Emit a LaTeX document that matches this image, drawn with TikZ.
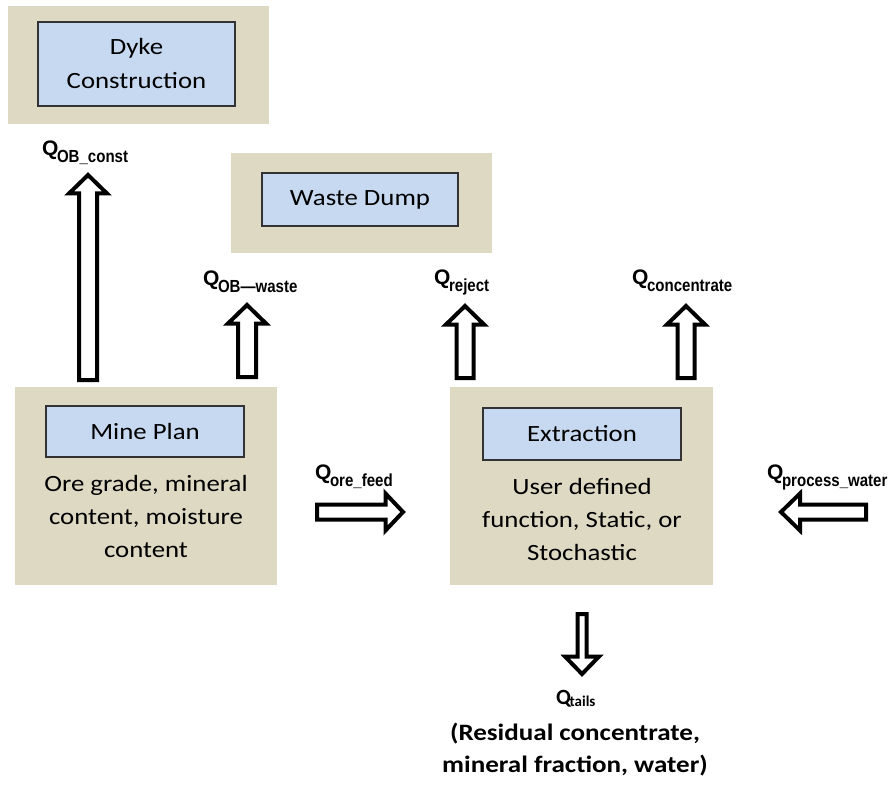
\documentclass[tikz,border=0pt]{standalone}
\usepackage{fontspec}
\setmainfont{Carlito}
\newfontfamily\boxfont[FakeStretch=1.15]{Carlito}
\newfontfamily\qfont{Liberation Sans}
\usetikzlibrary{calc}

\definecolor{panelfill}{RGB}{221,217,195}
\definecolor{titlefill}{RGB}{198,217,241}

% flow quantity label: Q with a lowered subscript
\newcommand\qflow[1]{{\qfont\bfseries\fontsize{21}{21}\selectfont Q}\kern-1.5pt\raisebox{-7pt}{\scalebox{0.86}[1]{\qfont\bfseries\fontsize{17.5}{17.5}\selectfont #1}}}

% block arrow from #1 to #2: shaft half-width #3, head half-width #4, head length #5
\newcommand\flowarrow[5]{%
  \coordinate (fa-base) at ($(#2)!#5!(#1)$);
  \draw[flowstyle] ($(#1)!#3!90:(#2)$) -- ($(fa-base)!#3!-90:(#1)$)
    -- ($(fa-base)!#4!-90:(#1)$) -- (#2) -- ($(fa-base)!#4!90:(#1)$)
    -- ($(fa-base)!#3!90:(#1)$) -- ($(#1)!#3!-90:(#2)$) -- cycle;
}

\tikzset{
  panel/.style={fill=panelfill, draw=none, inner sep=0pt},
  titlebox/.style={fill=titlefill, draw=black!80, line width=1.2pt, inner sep=0pt,
    align=center, font=\boxfont\fontsize{23.3}{34}\selectfont},
  bodytext/.style={inner sep=0pt, align=center, font=\boxfont\fontsize{23.3}{33}\selectfont},
  flowstyle/.style={draw=black, line width=4pt, fill=white, line join=miter},
  qlabel/.style={inner sep=0pt, anchor=base west},
  notetext/.style={inner sep=0pt, align=center, font=\boxfont\bfseries\fontsize{23.5}{32}\selectfont},
}

\begin{document}
\begin{tikzpicture}[x=1pt, y=-1pt]
\useasboundingbox[fill=white] (0,0) rectangle (896,799);

% process panels
\node[panel, minimum width=261pt, minimum height=118pt] (dykepanel) at (138.5,65) {};
\node[titlebox, minimum width=197pt, minimum height=84pt] (dyke) at (136.5,64) {Dyke\\Construction};

\node[panel, minimum width=261pt, minimum height=100pt] (wastepanel) at (361.5,203) {};
\node[titlebox, minimum width=196pt, minimum height=53pt] (waste) at (360,199.5) {Waste Dump};

\node[panel, minimum width=262pt, minimum height=198pt] (mine) at (146,486) {};
\node[titlebox, minimum width=198pt, minimum height=51pt] (minetitle) at (145,431.5) {Mine Plan};
\node[bodytext] (minebody) at (146,516) {Ore grade, mineral\\content, moisture\\content};

\node[panel, minimum width=263pt, minimum height=198pt] (extr) at (581.5,486) {};
\node[titlebox, minimum width=198pt, minimum height=52pt] (extrtitle) at (582,434) {Extraction};
\node[bodytext] (extrbody) at (582,519) {User defined\\function, Static, or\\Stochastic};

% flow labels
\node[qlabel] (qconst) at (42,156) {\qflow{OB\_const}};
\node[qlabel] (qwaste) at (203,286) {\qflow{OB—waste}};
\node[qlabel] (qreject) at (434,285) {\qflow{reject}};
\node[qlabel] (qconc) at (632,285) {\qflow{concentrate}};
\node[qlabel] (qore) at (315,479) {\qflow{ore\_feed}};
\node[qlabel] (qwater) at (767,479) {\qflow{process\_water}};
\node[qlabel] (qtails) at (556,704) {{\bfseries\fontsize{21.7}{22}\selectfont Q}\kern-1.5pt\raisebox{-2pt}{\bfseries\fontsize{15}{15}\selectfont tails}};
\node[notetext] (tailsnote) at (575,750) {(Residual concentrate,\\mineral fraction, water)};

% flow arrow end points
\coordinate (constFrom) at (88,380);   \coordinate (constTo) at (88,175);
\coordinate (wasteFrom) at (247,377);  \coordinate (wasteTo) at (247,305);
\coordinate (rejectFrom) at (465,378); \coordinate (rejectTo) at (465,306);
\coordinate (concFrom) at (686,378);   \coordinate (concTo) at (686,306);
\coordinate (oreFrom) at (317,512);    \coordinate (oreTo) at (403,512);
\coordinate (waterFrom) at (866,512);  \coordinate (waterTo) at (781,512);
\coordinate (tailsFrom) at (582,614);  \coordinate (tailsTo) at (582,674);

% flows
\flowarrow{constFrom}{constTo}{9pt}{19pt}{18.5pt}
\flowarrow{wasteFrom}{wasteTo}{9pt}{19pt}{18.5pt}
\flowarrow{rejectFrom}{rejectTo}{8.5pt}{19pt}{18.5pt}
\flowarrow{concFrom}{concTo}{8.5pt}{19pt}{18.5pt}
\flowarrow{oreFrom}{oreTo}{7.5pt}{18.5pt}{17.5pt}
\flowarrow{waterFrom}{waterTo}{7.5pt}{18.5pt}{19pt}
\flowarrow{tailsFrom}{tailsTo}{4.5pt}{17pt}{17.5pt}
\end{tikzpicture}
\end{document}
